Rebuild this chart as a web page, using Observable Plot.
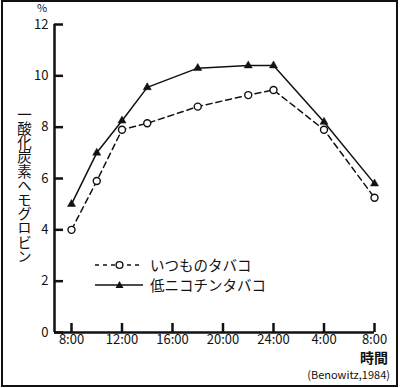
<!DOCTYPE html>
<html><head><meta charset="utf-8">
<script src="https://cdn.jsdelivr.net/npm/d3@7"></script>
<script src="https://cdn.jsdelivr.net/npm/@observablehq/plot@0.6"></script>
<style>
body{margin:0;background:#fff;}
#wrap{position:relative;width:400px;height:388px;overflow:hidden;font-family:"Noto Sans CJK JP",sans-serif;color:#111;}
#border{position:absolute;left:1px;top:0;width:397px;height:387px;border:2px solid #111;box-sizing:border-box;pointer-events:none;}
.abs{position:absolute;white-space:nowrap;line-height:1;}
</style></head>
<body><div id="wrap"><div id="chart"></div><div id="border"></div></div>
<script>
const hours = [8, 10, 12, 14, 18, 22, 24, 28, 32];
const regular = [4.0, 5.9, 7.9, 8.15, 8.8, 9.25, 9.45, 7.9, 5.25];
const lowNicotine = [5.0, 7.0, 8.25, 9.55, 10.3, 10.4, 10.4, 8.2, 5.8];
const seriesNames = ["いつものタバコ", "低ニコチンタバコ"];
const xTicks = [8, 12, 16, 20, 24, 28, 32];
const xTickLabels = ["8:00", "12:00", "16:00", "20:00", "24:00", "4:00", "8:00"];
const yTicks = [0, 2, 4, 6, 8, 10, 12];
const yLabel = "一酸化炭素ヘモグロビン";
const xLabel = "時間";
const yUnit = "%";
const source = "(Benowitz,1984)";

const regData = hours.map((h, i) => ({h, v: regular[i]}));
const lowData = hours.map((h, i) => ({h, v: lowNicotine[i]}));

const W = 400, H = 388, mL = 54, mR = 26, mT = 24, mB = 56, xInset = 17;
const frameW = W - mL - mR, frameH = H - mT - mB;
const ink = "#111";

const chart = Plot.plot({
  width: W, height: H,
  marginLeft: mL, marginRight: mR, marginTop: mT, marginBottom: mB,
  style: {fontFamily: '"Noto Sans CJK JP", sans-serif', fontSize: "13px", background: "transparent", color: ink},
  x: {domain: [8, 32], insetLeft: xInset},
  y: {domain: [0, 12]},
  marks: [
    Plot.axisY({ticks: yTicks, tickSize: 0, tickPadding: 6, label: null, fontSize: 13}),
    Plot.axisX({ticks: xTicks, tickSize: 0, tickPadding: 2, label: null, fontSize: 13,
      tickFormat: d => xTickLabels[xTicks.indexOf(d)]}),
    Plot.tickY(yTicks, {y: d => d, insetRight: frameW - 9, stroke: ink, strokeWidth: 2.5}),
    Plot.tickX(xTicks, {x: d => d, insetTop: frameH - 9, stroke: ink, strokeWidth: 2.5}),
    Plot.ruleY([0], {stroke: ink, strokeWidth: 2.5}),
    Plot.ruleX([8], {dx: -xInset, stroke: ink, strokeWidth: 2.5}),
    Plot.line(regData, {x: "h", y: "v", stroke: ink, strokeWidth: 1.5, strokeDasharray: "6,4"}),
    Plot.line(lowData, {x: "h", y: "v", stroke: ink, strokeWidth: 1.5}),
    Plot.dot(regData, {x: "h", y: "v", symbol: "circle", r: 3.5, fill: "white", stroke: ink, strokeWidth: 1.4}),
    Plot.dot(lowData, {x: "h", y: "v", symbol: "triangle", r: 3, fill: ink, stroke: ink, strokeWidth: 0.5})
  ]
});
document.getElementById("chart").appendChild(chart);

const wrap = document.getElementById("wrap");
function addDiv(html, css) {
  const d = document.createElement("div");
  d.className = "abs";
  d.innerHTML = html;
  d.style.cssText += css;
  wrap.appendChild(d);
  return d;
}
// unit
addDiv(yUnit, "left:37px;top:2px;font-size:11px;");
// vertical y label
addDiv(yLabel, "left:16px;top:107px;font-size:14.5px;writing-mode:vertical-rl;text-orientation:upright;line-height:16px;letter-spacing:-0.3px;");
// x label
addDiv(xLabel, "right:12px;top:350px;font-size:14px;font-weight:bold;");
// source
addDiv(source, "right:10px;top:369px;font-size:11px;");
// legend
const legend = addDiv(
  `<svg width="60" height="44" style="position:absolute;left:0;top:0;overflow:visible">
     <line x1="0" y1="10" x2="48" y2="10" stroke="${ink}" stroke-width="1.5" stroke-dasharray="4,4"/>
     <circle cx="24.5" cy="10" r="3.4" fill="white" stroke="${ink}" stroke-width="1.4"/>
     <line x1="0" y1="30" x2="48" y2="30" stroke="${ink}" stroke-width="1.5"/>
     <path d="M24.5,26 L28.5,33 L20.5,33 Z" fill="${ink}"/>
   </svg>
   <div style="position:absolute;left:55px;top:0px;font-size:14.5px;line-height:20px;">${seriesNames[0]}<br>${seriesNames[1]}</div>`,
  "left:95px;top:255px;width:200px;height:44px;");
</script>
</body></html>
